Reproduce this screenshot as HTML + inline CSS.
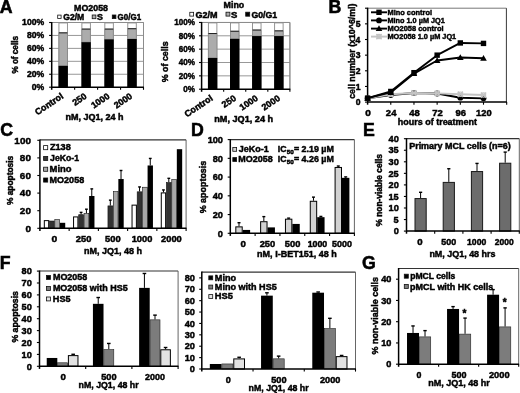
<!DOCTYPE html><html><head><meta charset="utf-8"><style>html,body{margin:0;padding:0;background:#fff;overflow:hidden}svg{display:block;filter:grayscale(1)}text{font-family:"Liberation Sans", sans-serif;font-weight:bold}</style></head><body>
<svg width="520" height="393" viewBox="0 0 520 393">
<rect x="0" y="0" width="520" height="393" fill="#fff"/>
<text x="-0.20" y="12.70" font-size="17.73" text-anchor="start" fill="#000" stroke="#000" stroke-width="0.55">A</text>
<text x="328.55" y="12.80" font-size="17.73" text-anchor="start" fill="#000" stroke="#000" stroke-width="0.55">B</text>
<text x="0.31" y="135.90" font-size="17.73" text-anchor="start" fill="#000" stroke="#000" stroke-width="0.55">C</text>
<text x="190.95" y="135.90" font-size="17.73" text-anchor="start" fill="#000" stroke="#000" stroke-width="0.55">D</text>
<text x="362.95" y="136.10" font-size="17.73" text-anchor="start" fill="#000" stroke="#000" stroke-width="0.55">E</text>
<text x="-0.15" y="269.10" font-size="17.73" text-anchor="start" fill="#000" stroke="#000" stroke-width="0.55">F</text>
<text x="361.91" y="268.80" font-size="17.73" text-anchor="start" fill="#000" stroke="#000" stroke-width="0.55">G</text>
<line x1="51.70" y1="74.26" x2="143.50" y2="74.26" stroke="#8c8c8c" stroke-width="0.9"/>
<line x1="51.70" y1="61.32" x2="143.50" y2="61.32" stroke="#8c8c8c" stroke-width="0.9"/>
<line x1="51.70" y1="48.38" x2="143.50" y2="48.38" stroke="#8c8c8c" stroke-width="0.9"/>
<line x1="51.70" y1="35.44" x2="143.50" y2="35.44" stroke="#8c8c8c" stroke-width="0.9"/>
<line x1="51.70" y1="22.50" x2="143.50" y2="22.50" stroke="#8c8c8c" stroke-width="0.9"/>
<line x1="143.50" y1="22.50" x2="143.50" y2="87.20" stroke="#8c8c8c" stroke-width="1.0"/>
<rect x="58.93" y="22.95" width="8.50" height="64.25" fill="#fff" stroke="#8a8a8a" stroke-width="0.9"/>
<rect x="58.93" y="32.85" width="8.50" height="33.00" fill="#acacac" stroke="#8a8a8a" stroke-width="0.9"/>
<line x1="58.98" y1="32.85" x2="67.38" y2="32.85" stroke="#222" stroke-width="1.0"/>
<rect x="58.48" y="65.85" width="9.40" height="21.35" fill="#000"/>
<rect x="81.88" y="22.95" width="8.50" height="64.25" fill="#fff" stroke="#8a8a8a" stroke-width="0.9"/>
<rect x="81.88" y="29.10" width="8.50" height="13.07" fill="#acacac" stroke="#8a8a8a" stroke-width="0.9"/>
<line x1="81.92" y1="29.10" x2="90.33" y2="29.10" stroke="#222" stroke-width="1.0"/>
<rect x="81.42" y="42.17" width="9.40" height="45.03" fill="#000"/>
<rect x="104.83" y="22.95" width="8.50" height="64.25" fill="#fff" stroke="#8a8a8a" stroke-width="0.9"/>
<rect x="104.83" y="29.10" width="8.50" height="10.29" fill="#acacac" stroke="#8a8a8a" stroke-width="0.9"/>
<line x1="104.88" y1="29.10" x2="113.28" y2="29.10" stroke="#222" stroke-width="1.0"/>
<rect x="104.38" y="39.39" width="9.40" height="47.81" fill="#000"/>
<rect x="127.78" y="22.95" width="8.50" height="64.25" fill="#fff" stroke="#8a8a8a" stroke-width="0.9"/>
<rect x="127.78" y="28.71" width="8.50" height="10.29" fill="#acacac" stroke="#8a8a8a" stroke-width="0.9"/>
<line x1="127.83" y1="28.71" x2="136.22" y2="28.71" stroke="#222" stroke-width="1.0"/>
<rect x="127.33" y="39.00" width="9.40" height="48.20" fill="#000"/>
<line x1="51.70" y1="22.50" x2="143.50" y2="22.50" stroke="#8c8c8c" stroke-width="1.1"/>
<line x1="143.50" y1="22.50" x2="143.50" y2="87.20" stroke="#8c8c8c" stroke-width="0.9"/>
<line x1="51.70" y1="22.00" x2="51.70" y2="89.80" stroke="#000" stroke-width="1.5"/>
<line x1="51.20" y1="87.20" x2="143.90" y2="87.20" stroke="#000" stroke-width="1.5"/>
<line x1="49.10" y1="87.20" x2="51.70" y2="87.20" stroke="#000" stroke-width="1.1"/>
<line x1="49.10" y1="74.26" x2="51.70" y2="74.26" stroke="#000" stroke-width="1.1"/>
<line x1="49.10" y1="61.32" x2="51.70" y2="61.32" stroke="#000" stroke-width="1.1"/>
<line x1="49.10" y1="48.38" x2="51.70" y2="48.38" stroke="#000" stroke-width="1.1"/>
<line x1="49.10" y1="35.44" x2="51.70" y2="35.44" stroke="#000" stroke-width="1.1"/>
<line x1="49.10" y1="22.50" x2="51.70" y2="22.50" stroke="#000" stroke-width="1.1"/>
<line x1="74.65" y1="87.20" x2="74.65" y2="89.80" stroke="#000" stroke-width="1.1"/>
<line x1="97.60" y1="87.20" x2="97.60" y2="89.80" stroke="#000" stroke-width="1.1"/>
<line x1="120.55" y1="87.20" x2="120.55" y2="89.80" stroke="#000" stroke-width="1.1"/>
<line x1="143.50" y1="87.20" x2="143.50" y2="89.80" stroke="#000" stroke-width="1.1"/>
<text x="31.70" y="90.05" font-size="8.6" text-anchor="start" fill="#000" stroke="#000" stroke-width="0.45" textLength="12.43" lengthAdjust="spacingAndGlyphs">0%</text>
<text x="26.91" y="77.11" font-size="8.6" text-anchor="start" fill="#000" stroke="#000" stroke-width="0.45" textLength="17.21" lengthAdjust="spacingAndGlyphs">20%</text>
<text x="26.91" y="64.17" font-size="8.6" text-anchor="start" fill="#000" stroke="#000" stroke-width="0.45" textLength="17.21" lengthAdjust="spacingAndGlyphs">40%</text>
<text x="26.91" y="51.23" font-size="8.6" text-anchor="start" fill="#000" stroke="#000" stroke-width="0.45" textLength="17.21" lengthAdjust="spacingAndGlyphs">60%</text>
<text x="26.91" y="38.29" font-size="8.6" text-anchor="start" fill="#000" stroke="#000" stroke-width="0.45" textLength="17.21" lengthAdjust="spacingAndGlyphs">80%</text>
<text x="22.13" y="25.35" font-size="8.6" text-anchor="start" fill="#000" stroke="#000" stroke-width="0.45" textLength="22.00" lengthAdjust="spacingAndGlyphs">100%</text>
<text x="0" y="0" font-size="8.8" fill="#000" stroke="#000" stroke-width="0.45" textLength="37.54" lengthAdjust="spacingAndGlyphs" transform="translate(17.90 73.60) rotate(-90)">% of cells</text>
<text x="74.11" y="10.70" font-size="8.4" text-anchor="start" fill="#000" stroke="#000" stroke-width="0.45" textLength="33.86" lengthAdjust="spacingAndGlyphs">MO2058</text>
<rect x="57.70" y="15.10" width="3.40" height="3.40" fill="#fff" stroke="#111" stroke-width="0.8"/>
<text x="63.25" y="19.70" font-size="8.3" text-anchor="start" fill="#000" stroke="#000" stroke-width="0.45" textLength="21.03" lengthAdjust="spacingAndGlyphs">G2/M</text>
<rect x="92.20" y="15.00" width="3.70" height="3.70" fill="#acacac" stroke="#111" stroke-width="0.8"/>
<text x="97.05" y="19.70" font-size="8.3" text-anchor="start" fill="#000" stroke="#000" stroke-width="0.45" textLength="5.90" lengthAdjust="spacingAndGlyphs">S</text>
<rect x="112.30" y="15.00" width="3.60" height="3.60" fill="#000" stroke="#111" stroke-width="0.8"/>
<text x="117.57" y="19.70" font-size="8.3" text-anchor="start" fill="#000" stroke="#000" stroke-width="0.45" textLength="23.55" lengthAdjust="spacingAndGlyphs">G0/G1</text>
<text x="0" y="0" font-size="9.0" text-anchor="end" fill="#000" stroke="#000" stroke-width="0.45" transform="translate(64.00 97.60) rotate(-34)">Control</text>
<text x="0" y="0" font-size="9.0" text-anchor="end" fill="#000" stroke="#000" stroke-width="0.45" transform="translate(87.40 97.60) rotate(-34)">250</text>
<text x="0" y="0" font-size="9.0" text-anchor="end" fill="#000" stroke="#000" stroke-width="0.45" transform="translate(110.30 97.60) rotate(-34)">1000</text>
<text x="0" y="0" font-size="9.0" text-anchor="end" fill="#000" stroke="#000" stroke-width="0.45" transform="translate(133.00 97.60) rotate(-34)">2000</text>
<text x="65.61" y="119.80" font-size="8.4" text-anchor="start" fill="#000" stroke="#000" stroke-width="0.45" textLength="57.95" lengthAdjust="spacingAndGlyphs">nM, JQ1, 24 h</text>
<line x1="201.60" y1="75.85" x2="289.90" y2="75.85" stroke="#8c8c8c" stroke-width="0.9"/>
<line x1="201.60" y1="62.50" x2="289.90" y2="62.50" stroke="#8c8c8c" stroke-width="0.9"/>
<line x1="201.60" y1="49.15" x2="289.90" y2="49.15" stroke="#8c8c8c" stroke-width="0.9"/>
<line x1="201.60" y1="35.80" x2="289.90" y2="35.80" stroke="#8c8c8c" stroke-width="0.9"/>
<line x1="201.60" y1="22.45" x2="289.90" y2="22.45" stroke="#8c8c8c" stroke-width="0.9"/>
<line x1="289.90" y1="22.45" x2="289.90" y2="89.20" stroke="#8c8c8c" stroke-width="1.0"/>
<rect x="208.39" y="22.90" width="8.50" height="66.30" fill="#fff" stroke="#8a8a8a" stroke-width="0.9"/>
<rect x="208.39" y="33.53" width="8.50" height="24.43" fill="#acacac" stroke="#8a8a8a" stroke-width="0.9"/>
<line x1="208.44" y1="33.53" x2="216.84" y2="33.53" stroke="#222" stroke-width="1.0"/>
<rect x="207.94" y="57.96" width="9.40" height="31.24" fill="#000"/>
<rect x="230.46" y="22.90" width="8.50" height="66.30" fill="#fff" stroke="#8a8a8a" stroke-width="0.9"/>
<rect x="230.46" y="31.26" width="8.50" height="7.61" fill="#acacac" stroke="#8a8a8a" stroke-width="0.9"/>
<line x1="230.51" y1="31.26" x2="238.91" y2="31.26" stroke="#222" stroke-width="1.0"/>
<rect x="230.01" y="38.87" width="9.40" height="50.33" fill="#000"/>
<rect x="252.54" y="22.90" width="8.50" height="66.30" fill="#fff" stroke="#8a8a8a" stroke-width="0.9"/>
<rect x="252.54" y="30.06" width="8.50" height="6.01" fill="#acacac" stroke="#8a8a8a" stroke-width="0.9"/>
<line x1="252.59" y1="30.06" x2="260.99" y2="30.06" stroke="#222" stroke-width="1.0"/>
<rect x="252.09" y="36.07" width="9.40" height="53.13" fill="#000"/>
<rect x="274.61" y="22.90" width="8.50" height="66.30" fill="#fff" stroke="#8a8a8a" stroke-width="0.9"/>
<rect x="274.61" y="30.86" width="8.50" height="5.21" fill="#acacac" stroke="#8a8a8a" stroke-width="0.9"/>
<line x1="274.66" y1="30.86" x2="283.06" y2="30.86" stroke="#222" stroke-width="1.0"/>
<rect x="274.16" y="36.07" width="9.40" height="53.13" fill="#000"/>
<line x1="201.60" y1="22.45" x2="289.90" y2="22.45" stroke="#8c8c8c" stroke-width="1.1"/>
<line x1="289.90" y1="22.45" x2="289.90" y2="89.20" stroke="#8c8c8c" stroke-width="0.9"/>
<line x1="201.60" y1="21.95" x2="201.60" y2="91.80" stroke="#000" stroke-width="1.5"/>
<line x1="201.10" y1="89.20" x2="290.30" y2="89.20" stroke="#000" stroke-width="1.5"/>
<line x1="199.00" y1="89.20" x2="201.60" y2="89.20" stroke="#000" stroke-width="1.1"/>
<line x1="199.00" y1="75.85" x2="201.60" y2="75.85" stroke="#000" stroke-width="1.1"/>
<line x1="199.00" y1="62.50" x2="201.60" y2="62.50" stroke="#000" stroke-width="1.1"/>
<line x1="199.00" y1="49.15" x2="201.60" y2="49.15" stroke="#000" stroke-width="1.1"/>
<line x1="199.00" y1="35.80" x2="201.60" y2="35.80" stroke="#000" stroke-width="1.1"/>
<line x1="199.00" y1="22.45" x2="201.60" y2="22.45" stroke="#000" stroke-width="1.1"/>
<line x1="223.67" y1="89.20" x2="223.67" y2="91.80" stroke="#000" stroke-width="1.1"/>
<line x1="245.75" y1="89.20" x2="245.75" y2="91.80" stroke="#000" stroke-width="1.1"/>
<line x1="267.82" y1="89.20" x2="267.82" y2="91.80" stroke="#000" stroke-width="1.1"/>
<line x1="289.90" y1="89.20" x2="289.90" y2="91.80" stroke="#000" stroke-width="1.1"/>
<text x="183.23" y="92.05" font-size="8.6" text-anchor="start" fill="#000" stroke="#000" stroke-width="0.45" textLength="11.68" lengthAdjust="spacingAndGlyphs">0%</text>
<text x="178.73" y="78.70" font-size="8.6" text-anchor="start" fill="#000" stroke="#000" stroke-width="0.45" textLength="16.18" lengthAdjust="spacingAndGlyphs">20%</text>
<text x="178.73" y="65.35" font-size="8.6" text-anchor="start" fill="#000" stroke="#000" stroke-width="0.45" textLength="16.18" lengthAdjust="spacingAndGlyphs">40%</text>
<text x="178.73" y="52.00" font-size="8.6" text-anchor="start" fill="#000" stroke="#000" stroke-width="0.45" textLength="16.18" lengthAdjust="spacingAndGlyphs">60%</text>
<text x="178.73" y="38.65" font-size="8.6" text-anchor="start" fill="#000" stroke="#000" stroke-width="0.45" textLength="16.18" lengthAdjust="spacingAndGlyphs">80%</text>
<text x="174.24" y="25.30" font-size="8.6" text-anchor="start" fill="#000" stroke="#000" stroke-width="0.45" textLength="20.68" lengthAdjust="spacingAndGlyphs">100%</text>
<text x="0" y="0" font-size="8.8" fill="#000" stroke="#000" stroke-width="0.45" textLength="40.78" lengthAdjust="spacingAndGlyphs" transform="translate(168.00 82.22) rotate(-90)">% of cells</text>
<text x="223.61" y="7.60" font-size="8.4" text-anchor="start" fill="#000" stroke="#000" stroke-width="0.45" textLength="20.53" lengthAdjust="spacingAndGlyphs">Mino</text>
<rect x="189.80" y="12.30" width="3.80" height="3.80" fill="#fff" stroke="#111" stroke-width="0.8"/>
<text x="195.53" y="17.60" font-size="8.3" text-anchor="start" fill="#000" stroke="#000" stroke-width="0.45" textLength="22.07" lengthAdjust="spacingAndGlyphs">G2/M</text>
<rect x="226.00" y="12.20" width="3.90" height="3.90" fill="#acacac" stroke="#111" stroke-width="0.8"/>
<text x="231.03" y="17.60" font-size="8.3" text-anchor="start" fill="#000" stroke="#000" stroke-width="0.45" textLength="6.35" lengthAdjust="spacingAndGlyphs">S</text>
<rect x="245.70" y="12.20" width="4.00" height="4.00" fill="#000" stroke="#111" stroke-width="0.8"/>
<text x="251.44" y="17.60" font-size="8.3" text-anchor="start" fill="#000" stroke="#000" stroke-width="0.45" textLength="25.80" lengthAdjust="spacingAndGlyphs">G0/G1</text>
<text x="0" y="0" font-size="9.0" text-anchor="end" fill="#000" stroke="#000" stroke-width="0.45" transform="translate(213.50 99.60) rotate(-34)">Control</text>
<text x="0" y="0" font-size="9.0" text-anchor="end" fill="#000" stroke="#000" stroke-width="0.45" transform="translate(236.80 99.60) rotate(-34)">250</text>
<text x="0" y="0" font-size="9.0" text-anchor="end" fill="#000" stroke="#000" stroke-width="0.45" transform="translate(258.60 99.60) rotate(-34)">1000</text>
<text x="0" y="0" font-size="9.0" text-anchor="end" fill="#000" stroke="#000" stroke-width="0.45" transform="translate(280.80 99.60) rotate(-34)">2000</text>
<text x="214.30" y="121.90" font-size="8.4" text-anchor="start" fill="#000" stroke="#000" stroke-width="0.45" textLength="58.77" lengthAdjust="spacingAndGlyphs">nM, JQ1, 24 h</text>
<line x1="367.60" y1="8.20" x2="506.40" y2="8.20" stroke="#777" stroke-width="1.0"/>
<line x1="506.40" y1="8.20" x2="506.40" y2="102.10" stroke="#222" stroke-width="0.9"/>
<line x1="367.60" y1="7.70" x2="367.60" y2="104.70" stroke="#000" stroke-width="1.5"/>
<line x1="367.10" y1="102.10" x2="506.80" y2="102.10" stroke="#000" stroke-width="1.5"/>
<line x1="365.00" y1="102.10" x2="367.60" y2="102.10" stroke="#000" stroke-width="1.1"/>
<text x="355.77" y="105.20" font-size="8.6" text-anchor="start" fill="#000" stroke="#000" stroke-width="0.45" textLength="4.78" lengthAdjust="spacingAndGlyphs">0</text>
<line x1="365.00" y1="86.45" x2="367.60" y2="86.45" stroke="#000" stroke-width="1.1"/>
<text x="355.66" y="89.55" font-size="8.6" text-anchor="start" fill="#000" stroke="#000" stroke-width="0.45" textLength="4.78" lengthAdjust="spacingAndGlyphs">1</text>
<line x1="365.00" y1="70.80" x2="367.60" y2="70.80" stroke="#000" stroke-width="1.1"/>
<text x="355.76" y="73.90" font-size="8.6" text-anchor="start" fill="#000" stroke="#000" stroke-width="0.45" textLength="4.78" lengthAdjust="spacingAndGlyphs">2</text>
<line x1="365.00" y1="55.15" x2="367.60" y2="55.15" stroke="#000" stroke-width="1.1"/>
<text x="355.73" y="58.25" font-size="8.6" text-anchor="start" fill="#000" stroke="#000" stroke-width="0.45" textLength="4.78" lengthAdjust="spacingAndGlyphs">3</text>
<line x1="365.00" y1="39.50" x2="367.60" y2="39.50" stroke="#000" stroke-width="1.1"/>
<text x="355.46" y="42.60" font-size="8.6" text-anchor="start" fill="#000" stroke="#000" stroke-width="0.45" textLength="4.78" lengthAdjust="spacingAndGlyphs">4</text>
<line x1="365.00" y1="23.85" x2="367.60" y2="23.85" stroke="#000" stroke-width="1.1"/>
<text x="355.66" y="26.95" font-size="8.6" text-anchor="start" fill="#000" stroke="#000" stroke-width="0.45" textLength="4.78" lengthAdjust="spacingAndGlyphs">5</text>
<line x1="365.00" y1="8.20" x2="367.60" y2="8.20" stroke="#000" stroke-width="1.1"/>
<line x1="390.78" y1="102.10" x2="390.78" y2="104.70" stroke="#000" stroke-width="1.1"/>
<line x1="413.96" y1="102.10" x2="413.96" y2="104.70" stroke="#000" stroke-width="1.1"/>
<line x1="437.14" y1="102.10" x2="437.14" y2="104.70" stroke="#000" stroke-width="1.1"/>
<line x1="460.32" y1="102.10" x2="460.32" y2="104.70" stroke="#000" stroke-width="1.1"/>
<line x1="483.50" y1="102.10" x2="483.50" y2="104.70" stroke="#000" stroke-width="1.1"/>
<line x1="506.68" y1="102.10" x2="506.68" y2="104.70" stroke="#000" stroke-width="1.1"/>
<text x="365.31" y="116.30" font-size="9.0" text-anchor="start" fill="#000" stroke="#000" stroke-width="0.45" textLength="5.59" lengthAdjust="spacingAndGlyphs">0</text>
<text x="385.88" y="116.30" font-size="9.0" text-anchor="start" fill="#000" stroke="#000" stroke-width="0.45" textLength="10.53" lengthAdjust="spacingAndGlyphs">24</text>
<text x="409.27" y="116.30" font-size="9.0" text-anchor="start" fill="#000" stroke="#000" stroke-width="0.45" textLength="10.53" lengthAdjust="spacingAndGlyphs">48</text>
<text x="432.35" y="116.30" font-size="9.0" text-anchor="start" fill="#000" stroke="#000" stroke-width="0.45" textLength="10.55" lengthAdjust="spacingAndGlyphs">72</text>
<text x="455.55" y="116.30" font-size="9.0" text-anchor="start" fill="#000" stroke="#000" stroke-width="0.45" textLength="10.54" lengthAdjust="spacingAndGlyphs">96</text>
<text x="476.12" y="116.30" font-size="9.0" text-anchor="start" fill="#000" stroke="#000" stroke-width="0.45" textLength="15.55" lengthAdjust="spacingAndGlyphs">120</text>
<text x="397.87" y="125.20" font-size="9.0" text-anchor="start" fill="#000" stroke="#000" stroke-width="0.45" textLength="79.13" lengthAdjust="spacingAndGlyphs">hours of treatment</text>
<text x="0" y="0" font-size="9.0" fill="#000" stroke="#000" stroke-width="0.45" textLength="95.28" lengthAdjust="spacingAndGlyphs" transform="translate(355.00 98.79) rotate(-90)">cell number (x10^6/ml)</text>
<polyline points="367.60,98.19 390.78,95.06 413.96,93.02 437.14,93.49 460.32,97.72 483.50,98.34" fill="none" stroke="#000" stroke-width="1.9" stroke-linejoin="round"/>
<circle cx="367.60" cy="98.19" r="2.9" fill="#000"/>
<circle cx="390.78" cy="95.06" r="2.9" fill="#000"/>
<circle cx="413.96" cy="93.02" r="2.9" fill="#000"/>
<circle cx="437.14" cy="93.49" r="2.9" fill="#000"/>
<circle cx="460.32" cy="97.72" r="2.9" fill="#000"/>
<circle cx="483.50" cy="98.34" r="2.9" fill="#000"/>
<polyline points="367.60,98.19 390.78,94.27 413.96,93.02 437.14,93.34 460.32,94.27 483.50,95.06" fill="none" stroke="#c4c4c4" stroke-width="1.9" stroke-linejoin="round"/>
<path d="M365.00,95.59L370.20,100.79M370.20,95.59L365.00,100.79" stroke="#c4c4c4" stroke-width="1.6"/>
<circle cx="367.60" cy="98.19" r="2.2" fill="none" stroke="#c4c4c4" stroke-width="1.1"/>
<path d="M388.18,91.67L393.38,96.87M393.38,91.67L388.18,96.87" stroke="#c4c4c4" stroke-width="1.6"/>
<circle cx="390.78" cy="94.27" r="2.2" fill="none" stroke="#c4c4c4" stroke-width="1.1"/>
<path d="M411.36,90.42L416.56,95.62M416.56,90.42L411.36,95.62" stroke="#c4c4c4" stroke-width="1.6"/>
<circle cx="413.96" cy="93.02" r="2.2" fill="none" stroke="#c4c4c4" stroke-width="1.1"/>
<path d="M434.54,90.74L439.74,95.94M439.74,90.74L434.54,95.94" stroke="#c4c4c4" stroke-width="1.6"/>
<circle cx="437.14" cy="93.34" r="2.2" fill="none" stroke="#c4c4c4" stroke-width="1.1"/>
<path d="M457.72,91.67L462.92,96.87M462.92,91.67L457.72,96.87" stroke="#c4c4c4" stroke-width="1.6"/>
<circle cx="460.32" cy="94.27" r="2.2" fill="none" stroke="#c4c4c4" stroke-width="1.1"/>
<path d="M480.90,92.46L486.10,97.66M486.10,92.46L480.90,97.66" stroke="#c4c4c4" stroke-width="1.6"/>
<circle cx="483.50" cy="95.06" r="2.2" fill="none" stroke="#c4c4c4" stroke-width="1.1"/>
<polyline points="367.60,98.19 390.78,92.40 413.96,73.62 437.14,60.47 460.32,57.50 483.50,58.28" fill="none" stroke="#000" stroke-width="1.9" stroke-linejoin="round"/>
<polygon points="367.60,94.89 370.90,100.69 364.30,100.69" fill="#000"/>
<polygon points="390.78,89.10 394.08,94.90 387.48,94.90" fill="#000"/>
<polygon points="413.96,70.32 417.26,76.12 410.66,76.12" fill="#000"/>
<polygon points="437.14,57.17 440.44,62.97 433.84,62.97" fill="#000"/>
<polygon points="460.32,54.20 463.62,60.00 457.02,60.00" fill="#000"/>
<polygon points="483.50,54.98 486.80,60.78 480.20,60.78" fill="#000"/>
<polyline points="367.60,98.19 390.78,91.46 413.96,72.68 437.14,55.15 460.32,42.94 483.50,43.41" fill="none" stroke="#000" stroke-width="1.9" stroke-linejoin="round"/>
<rect x="364.90" y="95.49" width="5.40" height="5.40" fill="#000"/>
<rect x="388.08" y="88.76" width="5.40" height="5.40" fill="#000"/>
<rect x="411.26" y="69.98" width="5.40" height="5.40" fill="#000"/>
<rect x="434.44" y="52.45" width="5.40" height="5.40" fill="#000"/>
<rect x="457.62" y="40.24" width="5.40" height="5.40" fill="#000"/>
<rect x="480.80" y="40.71" width="5.40" height="5.40" fill="#000"/>
<line x1="371.00" y1="12.30" x2="387.00" y2="12.30" stroke="#000" stroke-width="1.9"/>
<rect x="376.30" y="9.60" width="5.40" height="5.40" fill="#000"/>
<text x="387.50" y="15.10" font-size="7.7" text-anchor="start" fill="#000" stroke="#000" stroke-width="0.45" textLength="44.52" lengthAdjust="spacingAndGlyphs">Mino control</text>
<line x1="371.00" y1="20.40" x2="387.00" y2="20.40" stroke="#000" stroke-width="1.9"/>
<circle cx="379.00" cy="20.40" r="2.9" fill="#000"/>
<text x="387.51" y="23.20" font-size="7.7" text-anchor="start" fill="#000" stroke="#000" stroke-width="0.45" textLength="57.29" lengthAdjust="spacingAndGlyphs">Mino 1.0 µM JQ1</text>
<line x1="371.00" y1="28.60" x2="387.00" y2="28.60" stroke="#000" stroke-width="1.9"/>
<polygon points="379.00,25.30 382.30,31.10 375.70,31.10" fill="#000"/>
<text x="387.50" y="31.40" font-size="7.7" text-anchor="start" fill="#000" stroke="#000" stroke-width="0.45" textLength="56.03" lengthAdjust="spacingAndGlyphs">MO2058 control</text>
<line x1="371.00" y1="36.60" x2="387.00" y2="36.60" stroke="#c4c4c4" stroke-width="1.9"/>
<path d="M376.40,34.00L381.60,39.20M381.60,34.00L376.40,39.20" stroke="#c4c4c4" stroke-width="1.6"/>
<circle cx="379.00" cy="36.60" r="2.2" fill="none" stroke="#c4c4c4" stroke-width="1.1"/>
<text x="387.51" y="39.40" font-size="7.7" text-anchor="start" fill="#000" stroke="#000" stroke-width="0.45" textLength="68.70" lengthAdjust="spacingAndGlyphs">MO2058 1.0 µM JQ1</text>
<rect x="44.32" y="220.62" width="4.35" height="7.68" fill="#fff" stroke="#000" stroke-width="1.0"/>
<rect x="49.47" y="221.03" width="4.75" height="7.27" fill="#333" stroke="#111" stroke-width="0.6"/>
<rect x="54.82" y="219.62" width="4.75" height="8.68" fill="#a8a8a8" stroke="#111" stroke-width="0.6"/>
<rect x="59.87" y="222.80" width="5.35" height="5.50" fill="#000"/>
<rect x="73.56" y="216.92" width="4.35" height="11.38" fill="#fff" stroke="#000" stroke-width="1.0"/>
<line x1="81.08" y1="214.40" x2="81.08" y2="212.37" stroke="#000" stroke-width="1.0"/>
<line x1="79.68" y1="212.37" x2="82.48" y2="212.37" stroke="#000" stroke-width="1.4"/>
<rect x="78.71" y="214.70" width="4.75" height="13.60" fill="#333" stroke="#111" stroke-width="0.6"/>
<line x1="86.43" y1="213.34" x2="86.43" y2="209.20" stroke="#000" stroke-width="1.0"/>
<line x1="85.03" y1="209.20" x2="87.83" y2="209.20" stroke="#000" stroke-width="1.4"/>
<rect x="84.06" y="213.64" width="4.75" height="14.66" fill="#a8a8a8" stroke="#111" stroke-width="0.6"/>
<line x1="91.78" y1="196.00" x2="91.78" y2="188.88" stroke="#000" stroke-width="1.0"/>
<line x1="90.38" y1="188.88" x2="93.18" y2="188.88" stroke="#000" stroke-width="1.4"/>
<rect x="89.11" y="196.00" width="5.35" height="32.30" fill="#000"/>
<line x1="110.32" y1="205.60" x2="110.32" y2="200.14" stroke="#000" stroke-width="1.0"/>
<line x1="108.92" y1="200.14" x2="111.72" y2="200.14" stroke="#000" stroke-width="1.4"/>
<rect x="107.95" y="205.90" width="4.75" height="22.40" fill="#333" stroke="#111" stroke-width="0.6"/>
<rect x="113.30" y="191.64" width="4.75" height="36.66" fill="#a8a8a8" stroke="#111" stroke-width="0.6"/>
<line x1="121.02" y1="179.02" x2="121.02" y2="170.48" stroke="#000" stroke-width="1.0"/>
<line x1="119.62" y1="170.48" x2="122.42" y2="170.48" stroke="#000" stroke-width="1.4"/>
<rect x="118.35" y="179.02" width="5.35" height="49.28" fill="#000"/>
<rect x="132.04" y="205.13" width="4.35" height="23.17" fill="#fff" stroke="#000" stroke-width="1.0"/>
<line x1="139.56" y1="191.52" x2="139.56" y2="186.94" stroke="#000" stroke-width="1.0"/>
<line x1="138.16" y1="186.94" x2="140.97" y2="186.94" stroke="#000" stroke-width="1.4"/>
<rect x="137.19" y="191.82" width="4.75" height="36.48" fill="#333" stroke="#111" stroke-width="0.6"/>
<rect x="142.54" y="187.24" width="4.75" height="41.06" fill="#a8a8a8" stroke="#111" stroke-width="0.6"/>
<line x1="150.26" y1="165.47" x2="150.26" y2="158.43" stroke="#000" stroke-width="1.0"/>
<line x1="148.86" y1="158.43" x2="151.66" y2="158.43" stroke="#000" stroke-width="1.4"/>
<rect x="147.59" y="165.47" width="5.35" height="62.83" fill="#000"/>
<line x1="163.46" y1="192.40" x2="163.46" y2="189.93" stroke="#000" stroke-width="1.0"/>
<line x1="162.06" y1="189.93" x2="164.86" y2="189.93" stroke="#000" stroke-width="1.4"/>
<rect x="161.28" y="192.90" width="4.35" height="35.40" fill="#fff" stroke="#000" stroke-width="1.0"/>
<line x1="168.81" y1="182.28" x2="168.81" y2="178.32" stroke="#000" stroke-width="1.0"/>
<line x1="167.41" y1="178.32" x2="170.21" y2="178.32" stroke="#000" stroke-width="1.4"/>
<rect x="166.43" y="182.58" width="4.75" height="45.72" fill="#333" stroke="#111" stroke-width="0.6"/>
<rect x="171.78" y="179.58" width="4.75" height="48.72" fill="#a8a8a8" stroke="#111" stroke-width="0.6"/>
<rect x="176.83" y="149.19" width="5.35" height="79.11" fill="#000"/>
<line x1="39.90" y1="139.90" x2="186.10" y2="139.90" stroke="#333" stroke-width="1.1"/>
<line x1="186.10" y1="139.90" x2="186.10" y2="228.30" stroke="#555" stroke-width="0.9"/>
<line x1="39.90" y1="139.40" x2="39.90" y2="230.90" stroke="#000" stroke-width="1.5"/>
<line x1="39.40" y1="228.30" x2="186.50" y2="228.30" stroke="#000" stroke-width="1.5"/>
<line x1="37.30" y1="228.30" x2="39.90" y2="228.30" stroke="#000" stroke-width="1.1"/>
<line x1="37.30" y1="210.70" x2="39.90" y2="210.70" stroke="#000" stroke-width="1.1"/>
<line x1="37.30" y1="193.10" x2="39.90" y2="193.10" stroke="#000" stroke-width="1.1"/>
<line x1="37.30" y1="175.50" x2="39.90" y2="175.50" stroke="#000" stroke-width="1.1"/>
<line x1="37.30" y1="157.90" x2="39.90" y2="157.90" stroke="#000" stroke-width="1.1"/>
<line x1="37.30" y1="140.30" x2="39.90" y2="140.30" stroke="#000" stroke-width="1.1"/>
<line x1="69.14" y1="228.30" x2="69.14" y2="230.90" stroke="#000" stroke-width="1.1"/>
<line x1="98.38" y1="228.30" x2="98.38" y2="230.90" stroke="#000" stroke-width="1.1"/>
<line x1="127.62" y1="228.30" x2="127.62" y2="230.90" stroke="#000" stroke-width="1.1"/>
<line x1="156.86" y1="228.30" x2="156.86" y2="230.90" stroke="#000" stroke-width="1.1"/>
<line x1="186.10" y1="228.30" x2="186.10" y2="230.90" stroke="#000" stroke-width="1.1"/>
<text x="25.40" y="231.50" font-size="9.9" text-anchor="start" fill="#000" stroke="#000" stroke-width="0.45" textLength="5.51" lengthAdjust="spacingAndGlyphs">0</text>
<text x="19.89" y="213.90" font-size="9.9" text-anchor="start" fill="#000" stroke="#000" stroke-width="0.45" textLength="11.01" lengthAdjust="spacingAndGlyphs">20</text>
<text x="19.89" y="196.30" font-size="9.9" text-anchor="start" fill="#000" stroke="#000" stroke-width="0.45" textLength="11.01" lengthAdjust="spacingAndGlyphs">40</text>
<text x="19.89" y="178.70" font-size="9.9" text-anchor="start" fill="#000" stroke="#000" stroke-width="0.45" textLength="11.01" lengthAdjust="spacingAndGlyphs">60</text>
<text x="19.89" y="161.10" font-size="9.9" text-anchor="start" fill="#000" stroke="#000" stroke-width="0.45" textLength="11.01" lengthAdjust="spacingAndGlyphs">80</text>
<text x="14.39" y="143.50" font-size="9.9" text-anchor="start" fill="#000" stroke="#000" stroke-width="0.45" textLength="16.52" lengthAdjust="spacingAndGlyphs">100</text>
<text x="51.57" y="241.80" font-size="9.0" text-anchor="start" fill="#000" stroke="#000" stroke-width="0.45" textLength="5.71" lengthAdjust="spacingAndGlyphs">0</text>
<text x="75.87" y="241.80" font-size="9.0" text-anchor="start" fill="#000" stroke="#000" stroke-width="0.45" textLength="15.64" lengthAdjust="spacingAndGlyphs">250</text>
<text x="105.13" y="241.80" font-size="9.0" text-anchor="start" fill="#000" stroke="#000" stroke-width="0.45" textLength="15.64" lengthAdjust="spacingAndGlyphs">500</text>
<text x="131.71" y="241.80" font-size="9.0" text-anchor="start" fill="#000" stroke="#000" stroke-width="0.45" textLength="20.65" lengthAdjust="spacingAndGlyphs">1000</text>
<text x="161.09" y="241.80" font-size="9.0" text-anchor="start" fill="#000" stroke="#000" stroke-width="0.45" textLength="20.64" lengthAdjust="spacingAndGlyphs">2000</text>
<text x="84.01" y="253.50" font-size="9.0" text-anchor="start" fill="#000" stroke="#000" stroke-width="0.45" textLength="58.05" lengthAdjust="spacingAndGlyphs">nM, JQ1, 48 h</text>
<text x="0" y="0" font-size="9.0" fill="#000" stroke="#000" stroke-width="0.45" textLength="49.25" lengthAdjust="spacingAndGlyphs" transform="translate(13.10 205.06) rotate(-90)">% apoptosis</text>
<rect x="43.60" y="145.60" width="4.10" height="4.10" fill="#fff" stroke="#111" stroke-width="0.8"/>
<text x="49.93" y="150.30" font-size="9.0" text-anchor="start" fill="#000" stroke="#000" stroke-width="0.45" textLength="20.85" lengthAdjust="spacingAndGlyphs">Z138</text>
<rect x="43.60" y="156.40" width="4.10" height="4.10" fill="#333" stroke="#111" stroke-width="0.8"/>
<text x="50.07" y="161.10" font-size="9.0" text-anchor="start" fill="#000" stroke="#000" stroke-width="0.45" textLength="28.97" lengthAdjust="spacingAndGlyphs">JeKo-1</text>
<rect x="43.60" y="167.20" width="4.10" height="4.10" fill="#a8a8a8" stroke="#111" stroke-width="0.8"/>
<text x="49.57" y="171.90" font-size="9.0" text-anchor="start" fill="#000" stroke="#000" stroke-width="0.45" textLength="22.00" lengthAdjust="spacingAndGlyphs">Mino</text>
<rect x="43.60" y="178.00" width="4.10" height="4.10" fill="#000" stroke="#111" stroke-width="0.8"/>
<text x="49.60" y="182.70" font-size="9.0" text-anchor="start" fill="#000" stroke="#000" stroke-width="0.45" textLength="34.58" lengthAdjust="spacingAndGlyphs">MO2058</text>
<line x1="239.01" y1="226.37" x2="239.01" y2="222.71" stroke="#000" stroke-width="1.0"/>
<line x1="237.51" y1="222.71" x2="240.51" y2="222.71" stroke="#000" stroke-width="1.4"/>
<rect x="235.81" y="226.87" width="6.40" height="6.43" fill="#d2d2d2" stroke="#000" stroke-width="1.0"/>
<rect x="242.71" y="229.93" width="7.40" height="3.37" fill="#000"/>
<line x1="263.83" y1="221.21" x2="263.83" y2="216.62" stroke="#000" stroke-width="1.0"/>
<line x1="262.33" y1="216.62" x2="265.33" y2="216.62" stroke="#000" stroke-width="1.4"/>
<rect x="260.63" y="221.71" width="6.40" height="11.59" fill="#d2d2d2" stroke="#000" stroke-width="1.0"/>
<rect x="267.53" y="227.40" width="7.40" height="5.90" fill="#000"/>
<line x1="288.65" y1="218.68" x2="288.65" y2="218.12" stroke="#000" stroke-width="1.0"/>
<line x1="287.15" y1="218.12" x2="290.15" y2="218.12" stroke="#000" stroke-width="1.4"/>
<rect x="285.45" y="219.18" width="6.40" height="14.12" fill="#d2d2d2" stroke="#000" stroke-width="1.0"/>
<rect x="292.35" y="223.93" width="7.40" height="9.37" fill="#000"/>
<line x1="313.47" y1="200.79" x2="313.47" y2="197.13" stroke="#000" stroke-width="1.0"/>
<line x1="311.97" y1="197.13" x2="314.97" y2="197.13" stroke="#000" stroke-width="1.4"/>
<rect x="310.27" y="201.29" width="6.40" height="32.01" fill="#d2d2d2" stroke="#000" stroke-width="1.0"/>
<line x1="320.87" y1="217.18" x2="320.87" y2="216.43" stroke="#000" stroke-width="1.0"/>
<line x1="319.37" y1="216.43" x2="322.37" y2="216.43" stroke="#000" stroke-width="1.4"/>
<rect x="317.17" y="217.18" width="7.40" height="16.12" fill="#000"/>
<line x1="338.29" y1="166.96" x2="338.29" y2="166.02" stroke="#000" stroke-width="1.0"/>
<line x1="336.79" y1="166.02" x2="339.79" y2="166.02" stroke="#000" stroke-width="1.4"/>
<rect x="335.09" y="167.46" width="6.40" height="65.84" fill="#d2d2d2" stroke="#000" stroke-width="1.0"/>
<line x1="345.69" y1="177.83" x2="345.69" y2="176.89" stroke="#000" stroke-width="1.0"/>
<line x1="344.19" y1="176.89" x2="347.19" y2="176.89" stroke="#000" stroke-width="1.4"/>
<rect x="341.99" y="177.83" width="7.40" height="55.47" fill="#000"/>
<line x1="230.30" y1="139.60" x2="354.40" y2="139.60" stroke="#333" stroke-width="1.1"/>
<line x1="354.40" y1="139.60" x2="354.40" y2="233.30" stroke="#555" stroke-width="0.9"/>
<line x1="230.30" y1="139.10" x2="230.30" y2="235.90" stroke="#000" stroke-width="1.5"/>
<line x1="229.80" y1="233.30" x2="354.80" y2="233.30" stroke="#000" stroke-width="1.5"/>
<line x1="227.70" y1="233.30" x2="230.30" y2="233.30" stroke="#000" stroke-width="1.1"/>
<line x1="227.70" y1="214.56" x2="230.30" y2="214.56" stroke="#000" stroke-width="1.1"/>
<line x1="227.70" y1="195.82" x2="230.30" y2="195.82" stroke="#000" stroke-width="1.1"/>
<line x1="227.70" y1="177.08" x2="230.30" y2="177.08" stroke="#000" stroke-width="1.1"/>
<line x1="227.70" y1="158.34" x2="230.30" y2="158.34" stroke="#000" stroke-width="1.1"/>
<line x1="227.70" y1="139.60" x2="230.30" y2="139.60" stroke="#000" stroke-width="1.1"/>
<line x1="255.12" y1="233.30" x2="255.12" y2="235.90" stroke="#000" stroke-width="1.1"/>
<line x1="279.94" y1="233.30" x2="279.94" y2="235.90" stroke="#000" stroke-width="1.1"/>
<line x1="304.76" y1="233.30" x2="304.76" y2="235.90" stroke="#000" stroke-width="1.1"/>
<line x1="329.58" y1="233.30" x2="329.58" y2="235.90" stroke="#000" stroke-width="1.1"/>
<line x1="354.40" y1="233.30" x2="354.40" y2="235.90" stroke="#000" stroke-width="1.1"/>
<text x="217.86" y="236.50" font-size="9.2" text-anchor="start" fill="#000" stroke="#000" stroke-width="0.45" textLength="5.12" lengthAdjust="spacingAndGlyphs">0</text>
<text x="212.74" y="217.76" font-size="9.2" text-anchor="start" fill="#000" stroke="#000" stroke-width="0.45" textLength="10.23" lengthAdjust="spacingAndGlyphs">20</text>
<text x="212.74" y="199.02" font-size="9.2" text-anchor="start" fill="#000" stroke="#000" stroke-width="0.45" textLength="10.23" lengthAdjust="spacingAndGlyphs">40</text>
<text x="212.74" y="180.28" font-size="9.2" text-anchor="start" fill="#000" stroke="#000" stroke-width="0.45" textLength="10.23" lengthAdjust="spacingAndGlyphs">60</text>
<text x="212.74" y="161.54" font-size="9.2" text-anchor="start" fill="#000" stroke="#000" stroke-width="0.45" textLength="10.23" lengthAdjust="spacingAndGlyphs">80</text>
<text x="207.63" y="142.80" font-size="9.2" text-anchor="start" fill="#000" stroke="#000" stroke-width="0.45" textLength="15.35" lengthAdjust="spacingAndGlyphs">100</text>
<text x="240.42" y="247.40" font-size="9.0" text-anchor="start" fill="#000" stroke="#000" stroke-width="0.45" textLength="5.38" lengthAdjust="spacingAndGlyphs">0</text>
<text x="259.68" y="247.40" font-size="9.0" text-anchor="start" fill="#000" stroke="#000" stroke-width="0.45" textLength="15.61" lengthAdjust="spacingAndGlyphs">250</text>
<text x="284.81" y="247.40" font-size="9.0" text-anchor="start" fill="#000" stroke="#000" stroke-width="0.45" textLength="15.57" lengthAdjust="spacingAndGlyphs">500</text>
<text x="307.64" y="247.40" font-size="9.0" text-anchor="start" fill="#000" stroke="#000" stroke-width="0.45" textLength="19.62" lengthAdjust="spacingAndGlyphs">1000</text>
<text x="332.03" y="247.40" font-size="9.0" text-anchor="start" fill="#000" stroke="#000" stroke-width="0.45" textLength="19.84" lengthAdjust="spacingAndGlyphs">5000</text>
<text x="257.11" y="257.20" font-size="9.0" text-anchor="start" fill="#000" stroke="#000" stroke-width="0.45" textLength="79.65" lengthAdjust="spacingAndGlyphs">nM, I-BET151, 48 h</text>
<text x="0" y="0" font-size="9.0" fill="#000" stroke="#000" stroke-width="0.45" textLength="52.59" lengthAdjust="spacingAndGlyphs" transform="translate(206.10 213.32) rotate(-90)">% apoptosis</text>
<rect x="232.80" y="147.50" width="3.80" height="3.80" fill="#d2d2d2" stroke="#111" stroke-width="0.8"/>
<text x="238.76" y="151.90" font-size="9.0" text-anchor="start" fill="#000" stroke="#000" stroke-width="0.45" textLength="29.89" lengthAdjust="spacingAndGlyphs">JeKo-1</text>
<rect x="232.80" y="157.60" width="3.80" height="3.80" fill="#000" stroke="#111" stroke-width="0.8"/>
<text x="238.30" y="162.30" font-size="9.0" text-anchor="start" fill="#000" stroke="#000" stroke-width="0.45" textLength="34.48" lengthAdjust="spacingAndGlyphs">MO2058</text>
<text x="277.72" y="151.80" font-size="9.0" text-anchor="start" fill="#000" stroke="#000" stroke-width="0.45" textLength="8.72" lengthAdjust="spacingAndGlyphs">IC</text>
<text x="286.80" y="153.70" font-size="6.2" text-anchor="start" fill="#000" stroke="#000" stroke-width="0.45" textLength="7.06" lengthAdjust="spacingAndGlyphs">50</text>
<text x="293.93" y="151.80" font-size="9.0" text-anchor="start" fill="#000" stroke="#000" stroke-width="0.45" textLength="39.96" lengthAdjust="spacingAndGlyphs">= 2.19 µM</text>
<text x="277.72" y="161.60" font-size="9.0" text-anchor="start" fill="#000" stroke="#000" stroke-width="0.45" textLength="8.72" lengthAdjust="spacingAndGlyphs">IC</text>
<text x="286.80" y="163.50" font-size="6.2" text-anchor="start" fill="#000" stroke="#000" stroke-width="0.45" textLength="7.06" lengthAdjust="spacingAndGlyphs">50</text>
<text x="293.93" y="161.60" font-size="9.0" text-anchor="start" fill="#000" stroke="#000" stroke-width="0.45" textLength="39.96" lengthAdjust="spacingAndGlyphs">= 4.26 µM</text>
<line x1="420.60" y1="198.07" x2="420.60" y2="192.29" stroke="#000" stroke-width="1.0"/>
<line x1="419.00" y1="192.29" x2="422.20" y2="192.29" stroke="#000" stroke-width="1.4"/>
<rect x="415.00" y="198.57" width="11.20" height="32.53" fill="#6c6c6c" stroke="#1a1a1a" stroke-width="1.0"/>
<line x1="448.80" y1="181.90" x2="448.80" y2="168.73" stroke="#000" stroke-width="1.0"/>
<line x1="447.20" y1="168.73" x2="450.40" y2="168.73" stroke="#000" stroke-width="1.4"/>
<rect x="443.20" y="182.40" width="11.20" height="48.70" fill="#6c6c6c" stroke="#1a1a1a" stroke-width="1.0"/>
<line x1="477.00" y1="171.04" x2="477.00" y2="163.42" stroke="#000" stroke-width="1.0"/>
<line x1="475.40" y1="163.42" x2="478.60" y2="163.42" stroke="#000" stroke-width="1.4"/>
<rect x="471.40" y="171.54" width="11.20" height="59.56" fill="#6c6c6c" stroke="#1a1a1a" stroke-width="1.0"/>
<line x1="505.20" y1="162.72" x2="505.20" y2="152.10" stroke="#000" stroke-width="1.0"/>
<line x1="503.60" y1="152.10" x2="506.80" y2="152.10" stroke="#000" stroke-width="1.4"/>
<rect x="499.60" y="163.22" width="11.20" height="67.88" fill="#6c6c6c" stroke="#1a1a1a" stroke-width="1.0"/>
<line x1="406.50" y1="138.60" x2="519.30" y2="138.60" stroke="#333" stroke-width="1.1"/>
<line x1="519.30" y1="138.60" x2="519.30" y2="231.10" stroke="#555" stroke-width="0.9"/>
<line x1="406.50" y1="138.10" x2="406.50" y2="233.70" stroke="#000" stroke-width="1.5"/>
<line x1="406.00" y1="231.10" x2="519.70" y2="231.10" stroke="#000" stroke-width="1.5"/>
<line x1="403.90" y1="231.10" x2="406.50" y2="231.10" stroke="#000" stroke-width="1.1"/>
<line x1="403.90" y1="219.55" x2="406.50" y2="219.55" stroke="#000" stroke-width="1.1"/>
<line x1="403.90" y1="208.00" x2="406.50" y2="208.00" stroke="#000" stroke-width="1.1"/>
<line x1="403.90" y1="196.45" x2="406.50" y2="196.45" stroke="#000" stroke-width="1.1"/>
<line x1="403.90" y1="184.90" x2="406.50" y2="184.90" stroke="#000" stroke-width="1.1"/>
<line x1="403.90" y1="173.35" x2="406.50" y2="173.35" stroke="#000" stroke-width="1.1"/>
<line x1="403.90" y1="161.80" x2="406.50" y2="161.80" stroke="#000" stroke-width="1.1"/>
<line x1="403.90" y1="150.25" x2="406.50" y2="150.25" stroke="#000" stroke-width="1.1"/>
<line x1="403.90" y1="138.70" x2="406.50" y2="138.70" stroke="#000" stroke-width="1.1"/>
<line x1="434.70" y1="231.10" x2="434.70" y2="233.70" stroke="#000" stroke-width="1.1"/>
<line x1="462.90" y1="231.10" x2="462.90" y2="233.70" stroke="#000" stroke-width="1.1"/>
<line x1="491.10" y1="231.10" x2="491.10" y2="233.70" stroke="#000" stroke-width="1.1"/>
<line x1="519.30" y1="231.10" x2="519.30" y2="233.70" stroke="#000" stroke-width="1.1"/>
<text x="393.66" y="234.30" font-size="9.2" text-anchor="start" fill="#000" stroke="#000" stroke-width="0.45" textLength="5.12" lengthAdjust="spacingAndGlyphs">0</text>
<text x="393.54" y="222.75" font-size="9.2" text-anchor="start" fill="#000" stroke="#000" stroke-width="0.45" textLength="5.12" lengthAdjust="spacingAndGlyphs">5</text>
<text x="388.54" y="211.20" font-size="9.2" text-anchor="start" fill="#000" stroke="#000" stroke-width="0.45" textLength="10.23" lengthAdjust="spacingAndGlyphs">10</text>
<text x="388.42" y="199.65" font-size="9.2" text-anchor="start" fill="#000" stroke="#000" stroke-width="0.45" textLength="10.23" lengthAdjust="spacingAndGlyphs">15</text>
<text x="388.54" y="188.10" font-size="9.2" text-anchor="start" fill="#000" stroke="#000" stroke-width="0.45" textLength="10.23" lengthAdjust="spacingAndGlyphs">20</text>
<text x="388.42" y="176.55" font-size="9.2" text-anchor="start" fill="#000" stroke="#000" stroke-width="0.45" textLength="10.23" lengthAdjust="spacingAndGlyphs">25</text>
<text x="388.54" y="165.00" font-size="9.2" text-anchor="start" fill="#000" stroke="#000" stroke-width="0.45" textLength="10.23" lengthAdjust="spacingAndGlyphs">30</text>
<text x="388.42" y="153.45" font-size="9.2" text-anchor="start" fill="#000" stroke="#000" stroke-width="0.45" textLength="10.23" lengthAdjust="spacingAndGlyphs">35</text>
<text x="388.54" y="141.90" font-size="9.2" text-anchor="start" fill="#000" stroke="#000" stroke-width="0.45" textLength="10.23" lengthAdjust="spacingAndGlyphs">40</text>
<text x="417.32" y="245.00" font-size="9.0" text-anchor="start" fill="#000" stroke="#000" stroke-width="0.45" textLength="5.38" lengthAdjust="spacingAndGlyphs">0</text>
<text x="441.22" y="245.00" font-size="9.0" text-anchor="start" fill="#000" stroke="#000" stroke-width="0.45" textLength="14.94" lengthAdjust="spacingAndGlyphs">500</text>
<text x="467.06" y="245.00" font-size="9.0" text-anchor="start" fill="#000" stroke="#000" stroke-width="0.45" textLength="19.20" lengthAdjust="spacingAndGlyphs">1000</text>
<text x="494.81" y="245.00" font-size="9.0" text-anchor="start" fill="#000" stroke="#000" stroke-width="0.45" textLength="18.84" lengthAdjust="spacingAndGlyphs">2000</text>
<text x="429.41" y="257.00" font-size="9.0" text-anchor="start" fill="#000" stroke="#000" stroke-width="0.45" textLength="66.06" lengthAdjust="spacingAndGlyphs">nM, JQ1, 48 hrs</text>
<text x="0" y="0" font-size="8.8" fill="#000" stroke="#000" stroke-width="0.45" textLength="72.35" lengthAdjust="spacingAndGlyphs" transform="translate(381.60 226.51) rotate(-90)">% non-viable cells</text>
<text x="409.20" y="148.90" font-size="8.8" text-anchor="start" fill="#000" stroke="#000" stroke-width="0.45" textLength="101.54" lengthAdjust="spacingAndGlyphs">Primary MCL cells (n=6)</text>
<rect x="46.73" y="357.97" width="10.58" height="8.33" fill="#000"/>
<rect x="57.61" y="362.79" width="9.98" height="3.51" fill="#7c7c7c" stroke="#222" stroke-width="0.6"/>
<line x1="73.18" y1="355.11" x2="73.18" y2="354.28" stroke="#000" stroke-width="1.0"/>
<line x1="71.38" y1="354.28" x2="74.98" y2="354.28" stroke="#000" stroke-width="1.4"/>
<rect x="68.39" y="355.61" width="9.58" height="10.69" fill="#e2e2e2" stroke="#000" stroke-width="1.0"/>
<line x1="98.22" y1="303.83" x2="98.22" y2="297.52" stroke="#000" stroke-width="1.0"/>
<line x1="96.42" y1="297.52" x2="100.02" y2="297.52" stroke="#000" stroke-width="1.4"/>
<rect x="92.93" y="303.83" width="10.58" height="62.47" fill="#000"/>
<line x1="108.80" y1="349.28" x2="108.80" y2="343.45" stroke="#000" stroke-width="1.0"/>
<line x1="107.00" y1="343.45" x2="110.60" y2="343.45" stroke="#000" stroke-width="1.4"/>
<rect x="103.81" y="349.58" width="9.98" height="16.72" fill="#7c7c7c" stroke="#222" stroke-width="0.6"/>
<line x1="144.42" y1="287.88" x2="144.42" y2="273.48" stroke="#000" stroke-width="1.0"/>
<line x1="142.62" y1="273.48" x2="146.22" y2="273.48" stroke="#000" stroke-width="1.4"/>
<rect x="139.13" y="287.88" width="10.58" height="78.42" fill="#000"/>
<line x1="155.00" y1="319.53" x2="155.00" y2="315.13" stroke="#000" stroke-width="1.0"/>
<line x1="153.20" y1="315.13" x2="156.80" y2="315.13" stroke="#000" stroke-width="1.4"/>
<rect x="150.01" y="319.83" width="9.98" height="46.47" fill="#7c7c7c" stroke="#222" stroke-width="0.6"/>
<line x1="165.58" y1="349.28" x2="165.58" y2="347.50" stroke="#000" stroke-width="1.0"/>
<line x1="163.78" y1="347.50" x2="167.38" y2="347.50" stroke="#000" stroke-width="1.4"/>
<rect x="160.79" y="349.78" width="9.58" height="16.52" fill="#e2e2e2" stroke="#000" stroke-width="1.0"/>
<line x1="39.50" y1="271.00" x2="178.10" y2="271.00" stroke="#333" stroke-width="1.1"/>
<line x1="178.10" y1="271.00" x2="178.10" y2="366.30" stroke="#555" stroke-width="0.9"/>
<line x1="39.50" y1="270.50" x2="39.50" y2="368.90" stroke="#000" stroke-width="1.5"/>
<line x1="39.00" y1="366.30" x2="178.50" y2="366.30" stroke="#000" stroke-width="1.5"/>
<line x1="36.90" y1="366.30" x2="39.50" y2="366.30" stroke="#000" stroke-width="1.1"/>
<line x1="36.90" y1="354.40" x2="39.50" y2="354.40" stroke="#000" stroke-width="1.1"/>
<line x1="36.90" y1="342.50" x2="39.50" y2="342.50" stroke="#000" stroke-width="1.1"/>
<line x1="36.90" y1="330.60" x2="39.50" y2="330.60" stroke="#000" stroke-width="1.1"/>
<line x1="36.90" y1="318.70" x2="39.50" y2="318.70" stroke="#000" stroke-width="1.1"/>
<line x1="36.90" y1="306.80" x2="39.50" y2="306.80" stroke="#000" stroke-width="1.1"/>
<line x1="36.90" y1="294.90" x2="39.50" y2="294.90" stroke="#000" stroke-width="1.1"/>
<line x1="36.90" y1="283.00" x2="39.50" y2="283.00" stroke="#000" stroke-width="1.1"/>
<line x1="36.90" y1="271.10" x2="39.50" y2="271.10" stroke="#000" stroke-width="1.1"/>
<line x1="85.70" y1="366.30" x2="85.70" y2="368.90" stroke="#000" stroke-width="1.1"/>
<line x1="131.90" y1="366.30" x2="131.90" y2="368.90" stroke="#000" stroke-width="1.1"/>
<line x1="178.10" y1="366.30" x2="178.10" y2="368.90" stroke="#000" stroke-width="1.1"/>
<text x="26.66" y="369.50" font-size="9.2" text-anchor="start" fill="#000" stroke="#000" stroke-width="0.45" textLength="5.12" lengthAdjust="spacingAndGlyphs">0</text>
<text x="21.54" y="357.60" font-size="9.2" text-anchor="start" fill="#000" stroke="#000" stroke-width="0.45" textLength="10.23" lengthAdjust="spacingAndGlyphs">10</text>
<text x="21.54" y="345.70" font-size="9.2" text-anchor="start" fill="#000" stroke="#000" stroke-width="0.45" textLength="10.23" lengthAdjust="spacingAndGlyphs">20</text>
<text x="21.54" y="333.80" font-size="9.2" text-anchor="start" fill="#000" stroke="#000" stroke-width="0.45" textLength="10.23" lengthAdjust="spacingAndGlyphs">30</text>
<text x="21.54" y="321.90" font-size="9.2" text-anchor="start" fill="#000" stroke="#000" stroke-width="0.45" textLength="10.23" lengthAdjust="spacingAndGlyphs">40</text>
<text x="21.54" y="310.00" font-size="9.2" text-anchor="start" fill="#000" stroke="#000" stroke-width="0.45" textLength="10.23" lengthAdjust="spacingAndGlyphs">50</text>
<text x="21.54" y="298.10" font-size="9.2" text-anchor="start" fill="#000" stroke="#000" stroke-width="0.45" textLength="10.23" lengthAdjust="spacingAndGlyphs">60</text>
<text x="21.54" y="286.20" font-size="9.2" text-anchor="start" fill="#000" stroke="#000" stroke-width="0.45" textLength="10.23" lengthAdjust="spacingAndGlyphs">70</text>
<text x="21.54" y="274.30" font-size="9.2" text-anchor="start" fill="#000" stroke="#000" stroke-width="0.45" textLength="10.23" lengthAdjust="spacingAndGlyphs">80</text>
<text x="60.42" y="379.80" font-size="9.0" text-anchor="start" fill="#000" stroke="#000" stroke-width="0.45" textLength="5.38" lengthAdjust="spacingAndGlyphs">0</text>
<text x="101.22" y="379.80" font-size="9.0" text-anchor="start" fill="#000" stroke="#000" stroke-width="0.45" textLength="15.36" lengthAdjust="spacingAndGlyphs">500</text>
<text x="145.09" y="379.80" font-size="9.0" text-anchor="start" fill="#000" stroke="#000" stroke-width="0.45" textLength="19.88" lengthAdjust="spacingAndGlyphs">2000</text>
<text x="78.62" y="387.60" font-size="9.0" text-anchor="start" fill="#000" stroke="#000" stroke-width="0.45" textLength="60.01" lengthAdjust="spacingAndGlyphs">nM, JQ1, 48 hr</text>
<rect x="46.50" y="275.50" width="3.90" height="3.90" fill="#000" stroke="#111" stroke-width="0.8"/>
<text x="52.90" y="280.10" font-size="8.8" text-anchor="start" fill="#000" stroke="#000" stroke-width="0.45" textLength="34.48" lengthAdjust="spacingAndGlyphs">MO2058</text>
<rect x="46.50" y="286.50" width="3.90" height="3.90" fill="#7c7c7c" stroke="#111" stroke-width="0.8"/>
<text x="52.90" y="291.10" font-size="8.8" text-anchor="start" fill="#000" stroke="#000" stroke-width="0.45" textLength="74.75" lengthAdjust="spacingAndGlyphs">MO2058 with HS5</text>
<rect x="46.50" y="297.00" width="3.90" height="3.90" fill="#e2e2e2" stroke="#111" stroke-width="0.8"/>
<text x="52.89" y="301.60" font-size="8.8" text-anchor="start" fill="#000" stroke="#000" stroke-width="0.45" textLength="17.66" lengthAdjust="spacingAndGlyphs">HS5</text>
<text x="0" y="0" font-size="8.8" fill="#000" stroke="#000" stroke-width="0.45" textLength="51.58" lengthAdjust="spacingAndGlyphs" transform="translate(18.00 342.62) rotate(-90)">% apoptosis</text>
<rect x="209.82" y="363.99" width="11.73" height="5.01" fill="#000"/>
<rect x="221.85" y="363.95" width="11.13" height="5.05" fill="#7c7c7c" stroke="#222" stroke-width="0.6"/>
<line x1="239.15" y1="358.41" x2="239.15" y2="357.27" stroke="#000" stroke-width="1.0"/>
<line x1="237.35" y1="357.27" x2="240.95" y2="357.27" stroke="#000" stroke-width="1.4"/>
<rect x="233.78" y="358.91" width="10.73" height="10.09" fill="#e2e2e2" stroke="#000" stroke-width="1.0"/>
<line x1="266.92" y1="295.65" x2="266.92" y2="292.80" stroke="#000" stroke-width="1.0"/>
<line x1="265.12" y1="292.80" x2="268.72" y2="292.80" stroke="#000" stroke-width="1.4"/>
<rect x="261.05" y="295.65" width="11.73" height="73.35" fill="#000"/>
<line x1="278.65" y1="358.52" x2="278.65" y2="356.13" stroke="#000" stroke-width="1.0"/>
<line x1="276.85" y1="356.13" x2="280.45" y2="356.13" stroke="#000" stroke-width="1.4"/>
<rect x="273.08" y="358.82" width="11.13" height="10.18" fill="#7c7c7c" stroke="#222" stroke-width="0.6"/>
<line x1="318.15" y1="292.69" x2="318.15" y2="292.00" stroke="#000" stroke-width="1.0"/>
<line x1="316.35" y1="292.00" x2="319.95" y2="292.00" stroke="#000" stroke-width="1.4"/>
<rect x="312.28" y="292.69" width="11.73" height="76.31" fill="#000"/>
<line x1="329.88" y1="328.22" x2="329.88" y2="318.31" stroke="#000" stroke-width="1.0"/>
<line x1="328.08" y1="318.31" x2="331.68" y2="318.31" stroke="#000" stroke-width="1.4"/>
<rect x="324.32" y="328.52" width="11.13" height="40.48" fill="#7c7c7c" stroke="#222" stroke-width="0.6"/>
<line x1="341.62" y1="356.13" x2="341.62" y2="355.45" stroke="#000" stroke-width="1.0"/>
<line x1="339.82" y1="355.45" x2="343.42" y2="355.45" stroke="#000" stroke-width="1.4"/>
<rect x="336.25" y="356.63" width="10.73" height="12.37" fill="#e2e2e2" stroke="#000" stroke-width="1.0"/>
<line x1="201.80" y1="272.10" x2="355.50" y2="272.10" stroke="#333" stroke-width="1.1"/>
<line x1="355.50" y1="272.10" x2="355.50" y2="369.00" stroke="#555" stroke-width="0.9"/>
<line x1="201.80" y1="271.60" x2="201.80" y2="371.60" stroke="#000" stroke-width="1.5"/>
<line x1="201.30" y1="369.00" x2="355.90" y2="369.00" stroke="#000" stroke-width="1.5"/>
<line x1="199.20" y1="369.00" x2="201.80" y2="369.00" stroke="#000" stroke-width="1.1"/>
<line x1="199.20" y1="357.61" x2="201.80" y2="357.61" stroke="#000" stroke-width="1.1"/>
<line x1="199.20" y1="346.22" x2="201.80" y2="346.22" stroke="#000" stroke-width="1.1"/>
<line x1="199.20" y1="334.83" x2="201.80" y2="334.83" stroke="#000" stroke-width="1.1"/>
<line x1="199.20" y1="323.44" x2="201.80" y2="323.44" stroke="#000" stroke-width="1.1"/>
<line x1="199.20" y1="312.05" x2="201.80" y2="312.05" stroke="#000" stroke-width="1.1"/>
<line x1="199.20" y1="300.66" x2="201.80" y2="300.66" stroke="#000" stroke-width="1.1"/>
<line x1="199.20" y1="289.27" x2="201.80" y2="289.27" stroke="#000" stroke-width="1.1"/>
<line x1="199.20" y1="277.88" x2="201.80" y2="277.88" stroke="#000" stroke-width="1.1"/>
<line x1="253.03" y1="369.00" x2="253.03" y2="371.60" stroke="#000" stroke-width="1.1"/>
<line x1="304.27" y1="369.00" x2="304.27" y2="371.60" stroke="#000" stroke-width="1.1"/>
<line x1="355.50" y1="369.00" x2="355.50" y2="371.60" stroke="#000" stroke-width="1.1"/>
<text x="189.86" y="372.20" font-size="9.2" text-anchor="start" fill="#000" stroke="#000" stroke-width="0.45" textLength="5.12" lengthAdjust="spacingAndGlyphs">0</text>
<text x="184.74" y="360.81" font-size="9.2" text-anchor="start" fill="#000" stroke="#000" stroke-width="0.45" textLength="10.23" lengthAdjust="spacingAndGlyphs">10</text>
<text x="184.74" y="349.42" font-size="9.2" text-anchor="start" fill="#000" stroke="#000" stroke-width="0.45" textLength="10.23" lengthAdjust="spacingAndGlyphs">20</text>
<text x="184.74" y="338.03" font-size="9.2" text-anchor="start" fill="#000" stroke="#000" stroke-width="0.45" textLength="10.23" lengthAdjust="spacingAndGlyphs">30</text>
<text x="184.74" y="326.64" font-size="9.2" text-anchor="start" fill="#000" stroke="#000" stroke-width="0.45" textLength="10.23" lengthAdjust="spacingAndGlyphs">40</text>
<text x="184.74" y="315.25" font-size="9.2" text-anchor="start" fill="#000" stroke="#000" stroke-width="0.45" textLength="10.23" lengthAdjust="spacingAndGlyphs">50</text>
<text x="184.74" y="303.86" font-size="9.2" text-anchor="start" fill="#000" stroke="#000" stroke-width="0.45" textLength="10.23" lengthAdjust="spacingAndGlyphs">60</text>
<text x="184.74" y="292.47" font-size="9.2" text-anchor="start" fill="#000" stroke="#000" stroke-width="0.45" textLength="10.23" lengthAdjust="spacingAndGlyphs">70</text>
<text x="184.74" y="281.08" font-size="9.2" text-anchor="start" fill="#000" stroke="#000" stroke-width="0.45" textLength="10.23" lengthAdjust="spacingAndGlyphs">80</text>
<text x="225.84" y="382.60" font-size="9.0" text-anchor="start" fill="#000" stroke="#000" stroke-width="0.45" textLength="5.03" lengthAdjust="spacingAndGlyphs">0</text>
<text x="271.22" y="382.60" font-size="9.0" text-anchor="start" fill="#000" stroke="#000" stroke-width="0.45" textLength="15.36" lengthAdjust="spacingAndGlyphs">500</text>
<text x="319.98" y="382.60" font-size="9.0" text-anchor="start" fill="#000" stroke="#000" stroke-width="0.45" textLength="20.39" lengthAdjust="spacingAndGlyphs">2000</text>
<text x="248.62" y="391.10" font-size="9.0" text-anchor="start" fill="#000" stroke="#000" stroke-width="0.45" textLength="60.01" lengthAdjust="spacingAndGlyphs">nM, JQ1, 48 hr</text>
<rect x="208.80" y="275.90" width="3.90" height="3.90" fill="#000" stroke="#111" stroke-width="0.8"/>
<text x="214.89" y="280.50" font-size="8.8" text-anchor="start" fill="#000" stroke="#000" stroke-width="0.45" textLength="21.27" lengthAdjust="spacingAndGlyphs">Mino</text>
<rect x="208.80" y="285.10" width="3.90" height="3.90" fill="#7c7c7c" stroke="#111" stroke-width="0.8"/>
<text x="214.89" y="289.70" font-size="8.8" text-anchor="start" fill="#000" stroke="#000" stroke-width="0.45" textLength="61.86" lengthAdjust="spacingAndGlyphs">Mino with HS5</text>
<rect x="208.80" y="294.60" width="3.90" height="3.90" fill="#e2e2e2" stroke="#111" stroke-width="0.8"/>
<text x="214.88" y="299.20" font-size="8.8" text-anchor="start" fill="#000" stroke="#000" stroke-width="0.45" textLength="18.08" lengthAdjust="spacingAndGlyphs">HS5</text>
<line x1="413.02" y1="332.96" x2="413.02" y2="325.95" stroke="#000" stroke-width="1.0"/>
<line x1="411.32" y1="325.95" x2="414.72" y2="325.95" stroke="#000" stroke-width="1.4"/>
<rect x="407.02" y="332.96" width="12.00" height="31.24" fill="#000"/>
<line x1="425.02" y1="336.57" x2="425.02" y2="330.62" stroke="#000" stroke-width="1.0"/>
<line x1="423.32" y1="330.62" x2="426.72" y2="330.62" stroke="#000" stroke-width="1.4"/>
<rect x="419.32" y="336.88" width="11.40" height="27.32" fill="#7c7c7c" stroke="#222" stroke-width="0.6"/>
<line x1="453.05" y1="308.95" x2="453.05" y2="306.61" stroke="#000" stroke-width="1.0"/>
<line x1="451.35" y1="306.61" x2="454.75" y2="306.61" stroke="#000" stroke-width="1.4"/>
<rect x="447.05" y="308.95" width="12.00" height="55.25" fill="#000"/>
<line x1="465.05" y1="333.81" x2="465.05" y2="318.09" stroke="#000" stroke-width="1.0"/>
<line x1="463.35" y1="318.09" x2="466.75" y2="318.09" stroke="#000" stroke-width="1.4"/>
<rect x="459.35" y="334.11" width="11.40" height="30.09" fill="#7c7c7c" stroke="#222" stroke-width="0.6"/>
<line x1="493.08" y1="294.71" x2="493.08" y2="289.61" stroke="#000" stroke-width="1.0"/>
<line x1="491.38" y1="289.61" x2="494.78" y2="289.61" stroke="#000" stroke-width="1.4"/>
<rect x="487.08" y="294.71" width="12.00" height="69.49" fill="#000"/>
<line x1="505.08" y1="326.59" x2="505.08" y2="307.89" stroke="#000" stroke-width="1.0"/>
<line x1="503.38" y1="307.89" x2="506.78" y2="307.89" stroke="#000" stroke-width="1.4"/>
<rect x="499.38" y="326.89" width="11.40" height="37.31" fill="#7c7c7c" stroke="#222" stroke-width="0.6"/>
<line x1="398.60" y1="268.50" x2="518.70" y2="268.50" stroke="#333" stroke-width="1.1"/>
<line x1="518.70" y1="268.50" x2="518.70" y2="364.20" stroke="#555" stroke-width="0.9"/>
<line x1="398.60" y1="268.00" x2="398.60" y2="366.80" stroke="#000" stroke-width="1.5"/>
<line x1="398.10" y1="364.20" x2="519.10" y2="364.20" stroke="#000" stroke-width="1.5"/>
<line x1="396.00" y1="364.20" x2="398.60" y2="364.20" stroke="#000" stroke-width="1.1"/>
<line x1="396.00" y1="342.95" x2="398.60" y2="342.95" stroke="#000" stroke-width="1.1"/>
<line x1="396.00" y1="321.70" x2="398.60" y2="321.70" stroke="#000" stroke-width="1.1"/>
<line x1="396.00" y1="300.45" x2="398.60" y2="300.45" stroke="#000" stroke-width="1.1"/>
<line x1="396.00" y1="279.20" x2="398.60" y2="279.20" stroke="#000" stroke-width="1.1"/>
<line x1="438.63" y1="364.20" x2="438.63" y2="366.80" stroke="#000" stroke-width="1.1"/>
<line x1="478.67" y1="364.20" x2="478.67" y2="366.80" stroke="#000" stroke-width="1.1"/>
<line x1="518.70" y1="364.20" x2="518.70" y2="366.80" stroke="#000" stroke-width="1.1"/>
<text x="386.36" y="367.40" font-size="9.2" text-anchor="start" fill="#000" stroke="#000" stroke-width="0.45" textLength="5.12" lengthAdjust="spacingAndGlyphs">0</text>
<text x="381.24" y="346.15" font-size="9.2" text-anchor="start" fill="#000" stroke="#000" stroke-width="0.45" textLength="10.23" lengthAdjust="spacingAndGlyphs">10</text>
<text x="381.24" y="324.90" font-size="9.2" text-anchor="start" fill="#000" stroke="#000" stroke-width="0.45" textLength="10.23" lengthAdjust="spacingAndGlyphs">20</text>
<text x="381.24" y="303.65" font-size="9.2" text-anchor="start" fill="#000" stroke="#000" stroke-width="0.45" textLength="10.23" lengthAdjust="spacingAndGlyphs">30</text>
<text x="381.24" y="282.40" font-size="9.2" text-anchor="start" fill="#000" stroke="#000" stroke-width="0.45" textLength="10.23" lengthAdjust="spacingAndGlyphs">40</text>
<text x="416.55" y="378.00" font-size="9.0" text-anchor="start" fill="#000" stroke="#000" stroke-width="0.45" textLength="4.91" lengthAdjust="spacingAndGlyphs">0</text>
<text x="451.52" y="378.00" font-size="9.0" text-anchor="start" fill="#000" stroke="#000" stroke-width="0.45" textLength="15.05" lengthAdjust="spacingAndGlyphs">500</text>
<text x="488.98" y="378.00" font-size="9.0" text-anchor="start" fill="#000" stroke="#000" stroke-width="0.45" textLength="20.60" lengthAdjust="spacingAndGlyphs">2000</text>
<text x="428.21" y="386.00" font-size="9.0" text-anchor="start" fill="#000" stroke="#000" stroke-width="0.45" textLength="61.63" lengthAdjust="spacingAndGlyphs">nM, JQ1, 48 hr</text>
<text x="0" y="0" font-size="8.8" fill="#000" stroke="#000" stroke-width="0.45" textLength="77.59" lengthAdjust="spacingAndGlyphs" transform="translate(377.50 354.52) rotate(-90)">% non-viable cells</text>
<text x="464.40" y="316.90" font-size="10" text-anchor="middle" fill="#000" stroke="#000" stroke-width="0.45">*</text>
<text x="504.60" y="306.30" font-size="10" text-anchor="middle" fill="#000" stroke="#000" stroke-width="0.45">*</text>
<rect x="404.30" y="274.20" width="4.00" height="4.00" fill="#000" stroke="#111" stroke-width="0.8"/>
<text x="410.14" y="278.80" font-size="8.8" text-anchor="start" fill="#000" stroke="#000" stroke-width="0.45" textLength="45.22" lengthAdjust="spacingAndGlyphs">pMCL cells</text>
<rect x="404.30" y="284.40" width="4.00" height="4.00" fill="#7c7c7c" stroke="#111" stroke-width="0.8"/>
<text x="410.11" y="289.60" font-size="8.8" text-anchor="start" fill="#000" stroke="#000" stroke-width="0.45" textLength="83.16" lengthAdjust="spacingAndGlyphs">pMCL with HK cells</text>
</svg></body></html>
